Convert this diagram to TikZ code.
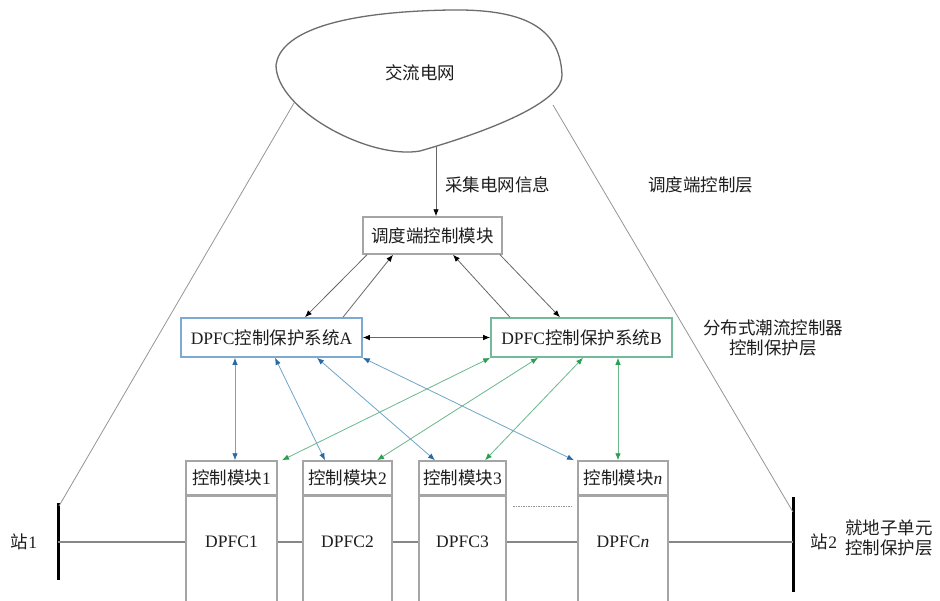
\documentclass[tikz,border=0pt]{standalone}
\usepackage{fontspec}
\setmainfont{Liberation Serif}
\newfontfamily\cjk{Noto Sans CJK SC}
\newcommand\zhtxt[1]{{\cjk #1}}
\usetikzlibrary{arrows.meta,calc}
\definecolor{lgray}{RGB}{150,150,150}
\definecolor{bgray}{RGB}{165,165,165}
\definecolor{blueln}{RGB}{110,165,200}
\definecolor{bluehd}{RGB}{40,105,165}
\definecolor{greenln}{RGB}{105,185,140}
\definecolor{greenhd}{RGB}{40,160,80}
\definecolor{boxA}{RGB}{125,170,210}
\definecolor{boxB}{RGB}{115,185,155}
\definecolor{txt}{RGB}{30,30,30}
\tikzset{
  every node/.style={font=\fontsize{17.5}{21}\selectfont, text=txt, inner sep=0pt},
  plainbox/.style={draw=bgray, line width=1.5pt, fill=white},
  sysA/.style={draw=boxA, line width=1.6pt, fill=white, minimum width=181pt, minimum height=39pt},
  sysB/.style={draw=boxB, line width=1.6pt, fill=white, minimum width=181pt, minimum height=39pt},
  modbox/.style={plainbox, minimum height=34pt},
  lowbox/.style={plainbox, minimum height=110pt, anchor=north},
  thinline/.style={draw=lgray, line width=0.8pt},
  busline/.style={draw=lgray!90!black, line width=1.6pt},
  barline/.style={draw=black, line width=3pt},
  blkarr/.style={draw=gray!80!black, line width=0.8pt, -{Latex[length=7pt,width=5.5pt,color=black]}},
  bluearr/.style={draw=blueln, line width=0.8pt, {Latex[length=7pt,width=5.5pt,color=bluehd]}-{Latex[length=7pt,width=5.5pt,color=bluehd]}},
  greenarr/.style={draw=greenln, line width=0.8pt, {Latex[length=7pt,width=5.5pt,color=greenhd]}-{Latex[length=7pt,width=5.5pt,color=greenhd]}},
  blkdbl/.style={draw=gray!80!black, line width=0.8pt, {Latex[length=7pt,width=5.5pt,color=black]}-{Latex[length=7pt,width=5.5pt,color=black]}},
}
\begin{document}
\begin{tikzpicture}[x=1pt,y=-1pt]
\useasboundingbox[fill=white] (0,0) rectangle (940,600);

% cloud (AC grid)
\draw[draw=gray!85!black, line width=1.3pt, fill=white]
  (276,65) .. controls (280,35) and (330,12) .. (450,10)
  .. controls (520,9) and (560,25) .. (562,75)
  .. controls (563,100) and (500,128) .. (420,151)
  .. controls (370,160) and (276,110) .. (276,65) -- cycle;
\node (grid) at (420,73) {\zhtxt{交流电网}};
\coordinate (cl) at (294,103);
\coordinate (cr) at (553,105);
\coordinate (cb) at (436,147);

% stations
\coordinate (s1top) at (58,503);
\coordinate (s1bot) at (58,580);
\coordinate (s2top) at (793,497);
\coordinate (s2bot) at (793,592);
\draw[barline] (s1top) -- (s1bot);
\draw[barline] (s2top) -- (s2bot);
\draw[thinline] (cl) -- ($(s1top)+(1,3)$);
\draw[thinline] (cr) -- ($(s2top)+(0,15)$);

% dispatch module
\node[plainbox, minimum width=139pt, minimum height=37pt] (ctrl) at (432.5,235.5) {\zhtxt{调度端控制模块}};
\draw[blkarr] (cb) -- (ctrl.north -| cb);

% labels
\node[anchor=west] (lbl1) at (445,185) {\zhtxt{采集电网信息}};
\node[anchor=west] (lbl2) at (648,185) {\zhtxt{调度端控制层}};
\node[align=center] (lbl3) at (773,338) {\zhtxt{分布式潮流控制器}\\[-1pt]\zhtxt{控制保护层}};
\node (st1) at (24,542) {\zhtxt{站}1};
\node (st2) at (824,542) {\zhtxt{站}2};
\node[align=center] (lbl4) at (889,538) {\zhtxt{就地子单元}\\[-1pt]\zhtxt{控制保护层}};

% DPFC systems
\node[sysA] (A) at (271.5,337.5) {DPFC\zhtxt{控制保护系统}A};
\node[sysB] (B) at (581.5,337.5) {DPFC\zhtxt{控制保护系统}B};
\draw[blkdbl] (A.east) -- (B.west);

\draw[blkarr] (367,0 |- ctrl.south) -- (305,0 |- A.north);
\draw[blkarr] (343,0 |- A.north) -- (393,0 |- ctrl.south);
\draw[blkarr] (510,0 |- B.north) -- (453,0 |- ctrl.south);
\draw[blkarr] (500,0 |- ctrl.south) -- (560,0 |- B.north);

% control modules and DPFC units
\node[modbox, minimum width=91pt] (m1) at (231.5,478) {\zhtxt{控制模块}1};
\node[modbox, minimum width=89pt] (m2) at (347.5,478) {\zhtxt{控制模块}2};
\node[modbox, minimum width=87pt] (m3) at (462.5,478) {\zhtxt{控制模块}3};
\node[modbox, minimum width=90pt] (mn) at (623,478) {\zhtxt{控制模块}\textit{n}};

\node[lowbox, minimum width=91pt] (d1) at (m1.south) {};
\node[lowbox, minimum width=89pt] (d2) at (m2.south) {};
\node[lowbox, minimum width=87pt] (d3) at (m3.south) {};
\node[lowbox, minimum width=90pt] (dn) at (mn.south) {};
\node (t1) at (231.5,542) {DPFC1};
\node (t2) at (347.5,542) {DPFC2};
\node (t3) at (462.5,542) {DPFC3};
\node (tn) at (623,542) {DPFC\textit{n}};

% bus line
\draw[busline] (s1top |- t1) -- (d1.west |- t1);
\draw[busline] (d1.east |- t1) -- (d2.west |- t1);
\draw[busline] (d2.east |- t1) -- (d3.west |- t1);
\draw[busline] (d3.east |- t1) -- (dn.west |- t1);
\draw[busline] (dn.east |- t1) -- (s2top |- t1);

% ellipsis between module 3 and n
\coordinate (dots1) at (513,506);
\coordinate (dots2) at (571,506);
\draw[draw=lgray, line width=0.8pt, dash pattern=on 1.5pt off 1pt] (dots1) -- (dots2);

% A <-> modules (blue)
\draw[bluearr] (235,0 |- A.south) -- (235,0 |- m1.north);
\draw[bluearr] (275,0 |- A.south) -- (325,0 |- m2.north);
\draw[bluearr] (317,0 |- A.south) -- (435,0 |- m3.north);
\draw[bluearr] (A.south east) -- (574,0 |- mn.north);

% B <-> modules (green)
\draw[greenarr] (B.south west) -- (282,0 |- m1.north);
\draw[greenarr] (538,0 |- B.south) -- (377,0 |- m2.north);
\draw[greenarr] (583,0 |- B.south) -- (485,0 |- m3.north);
\draw[greenarr] (618,0 |- B.south) -- (618,0 |- mn.north);
\end{tikzpicture}
\end{document}
